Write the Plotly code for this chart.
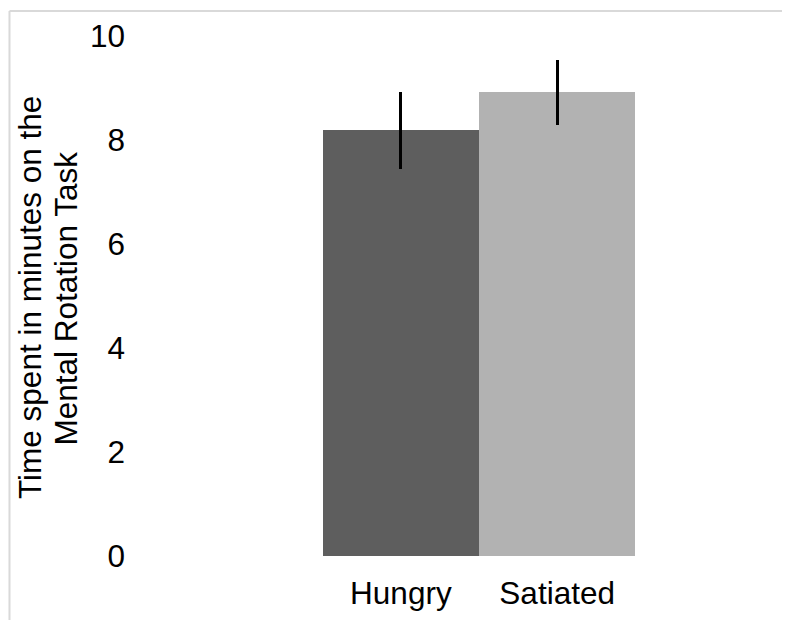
import plotly.graph_objects as go

categories = ["Hungry", "Satiated"]
means = [8.19, 8.92]
errors = [0.74, 0.62]
bar_colors = ["#5e5e5e", "#b2b2b2"]
y_ticks = [0, 2, 4, 6, 8, 10]
title_lines = ["Time spent in minutes on the", "Mental Rotation Task"]

FONT = "Liberation Sans, Arial, sans-serif"
FS = 31.5

fig = go.Figure()
fig.add_trace(go.Bar(
    x=[0, 1],
    y=means,
    width=1,
    marker=dict(color=bar_colors, line=dict(width=0)),
    error_y=dict(type="data", array=errors, visible=True, color="black",
                 thickness=3, width=0),
    showlegend=False,
))

fig.update_layout(
    width=790, height=620,
    margin=dict(l=135, r=10, t=20, b=64),
    paper_bgcolor="white", plot_bgcolor="white",
    font=dict(family=FONT, size=FS, color="black"),
    bargap=0,
    xaxis=dict(
        range=[-1.650, 2.477],
        tickmode="array", tickvals=[0, 1], ticktext=categories,
        showgrid=False, zeroline=False, showline=False, ticks="",
        ticklabelstandoff=7,
        tickfont=dict(size=FS),
    ),
    yaxis=dict(
        range=[-0.153, 10.10],
        tickmode="array", tickvals=y_ticks, ticktext=[str(v) for v in y_ticks],
        showgrid=False, zeroline=False, showline=False, ticks="",
        ticklabelstandoff=17,
        tickfont=dict(size=FS),
    ),
    annotations=[
        dict(text=title_lines[0], xref="paper", yref="paper", x=-0.176, y=0.500,
             xanchor="center", yanchor="middle", textangle=-90, showarrow=False,
             font=dict(family=FONT, size=FS, color="black")),
        dict(text=title_lines[1], xref="paper", yref="paper", x=-0.1186, y=0.497,
             xanchor="center", yanchor="middle", textangle=-90, showarrow=False,
             font=dict(family=FONT, size=FS, color="black")),
    ],
    shapes=[
        dict(type="line", xref="paper", yref="paper",
             x0=-0.2070, x1=-0.2070, y0=-0.2, y1=1.0373,
             line=dict(color="#d9d9d9", width=2)),
        dict(type="line", xref="paper", yref="paper",
             x0=-0.2070, x1=1.02, y0=1.0373, y1=1.0373,
             line=dict(color="#d9d9d9", width=2)),
    ],
)

fig.write_html("out.html")
